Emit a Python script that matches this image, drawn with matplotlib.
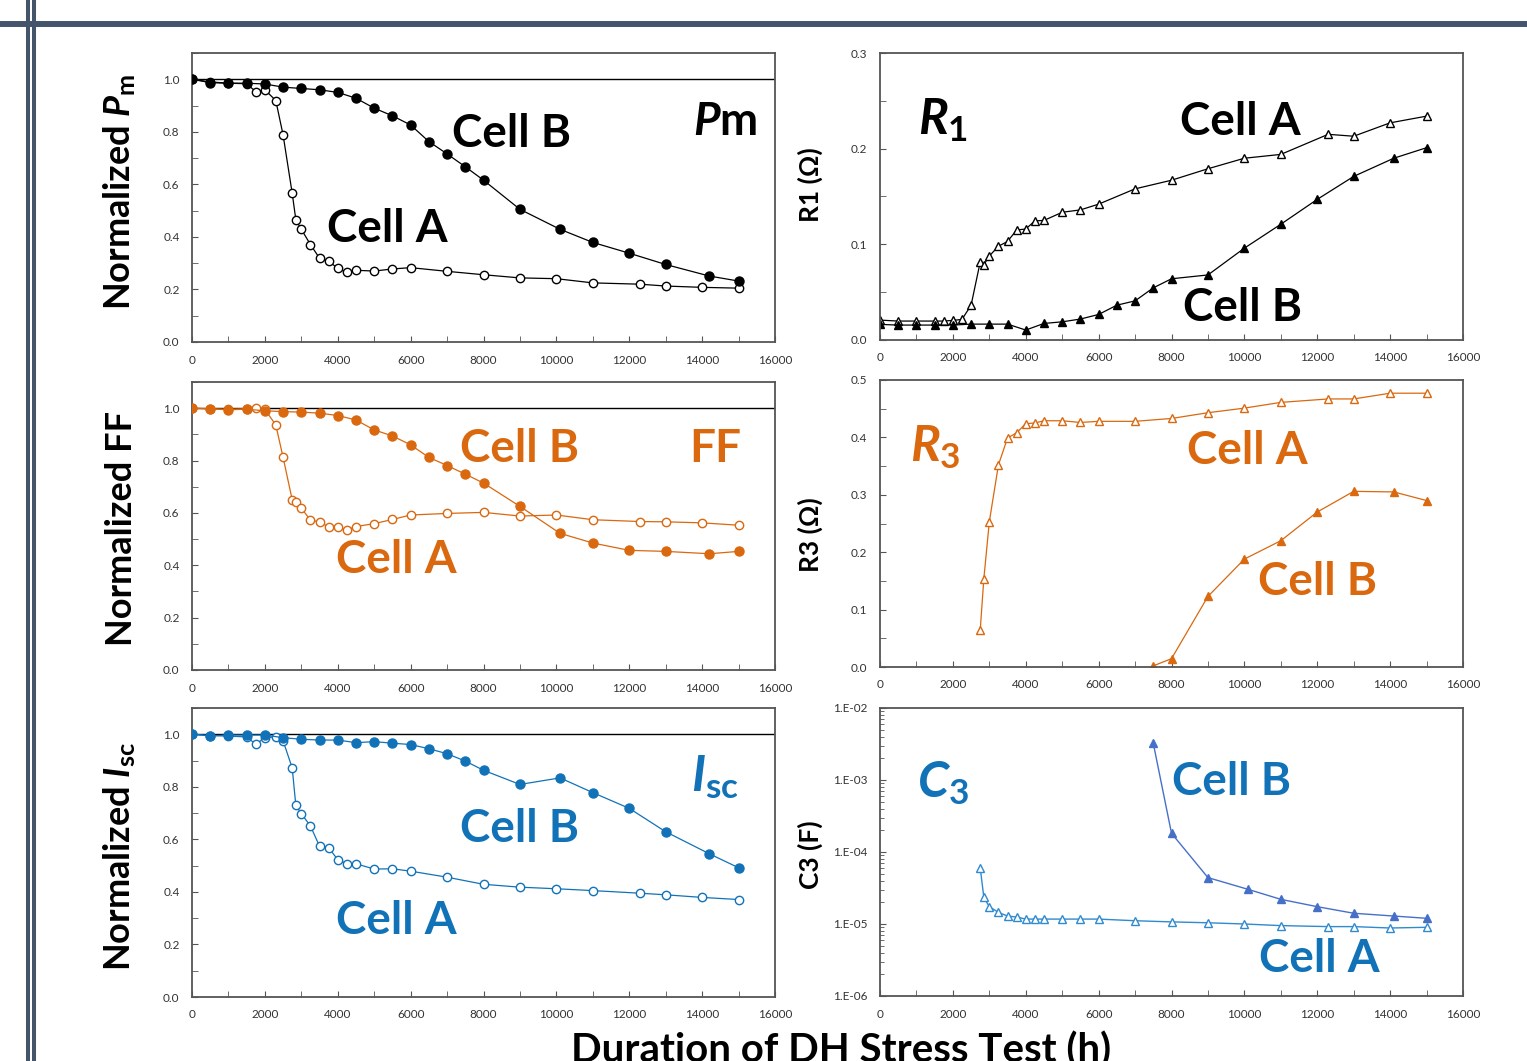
import numpy as np
import matplotlib
matplotlib.use("Agg")
import matplotlib.pyplot as plt
from matplotlib.lines import Line2D
from matplotlib.ticker import MultipleLocator, FuncFormatter, LogLocator, NullFormatter

plt.rcParams['font.family'] = ['Lato', 'DejaVu Sans']
plt.rcParams['mathtext.fontset'] = 'custom'
plt.rcParams['mathtext.rm'] = 'Lato:bold'
plt.rcParams['mathtext.it'] = 'Lato:italic:bold'
plt.rcParams['mathtext.bf'] = 'Lato:bold'

# hours of damp-heat exposure
hours_a = [0, 500, 1000, 1500, 1750, 2000, 2300, 2500, 2750, 2850, 3000, 3250, 3500, 3750,
           4000, 4250, 4500, 5000, 5500, 6000, 7000, 8000, 9000, 10000, 11000, 12300, 13000,
           14000, 15000]
hours_b = [0, 500, 1000, 1500, 2000, 2500, 3000, 3500, 4000, 4500, 5000, 5500, 6000, 6500,
           7000, 7500, 8000, 9000, 10100, 11000, 12000, 13000, 14200, 15000]

# normalized Pm, FF, Isc
pm_a = [1.0, 0.99, 0.985, 0.983, 0.953, 0.96, 0.919, 0.788, 0.566, 0.465, 0.429, 0.371, 0.319,
        0.308, 0.280, 0.265, 0.273, 0.270, 0.278, 0.283, 0.269, 0.256, 0.244, 0.241, 0.225,
        0.220, 0.213, 0.208, 0.205]
pm_b = [1.0, 0.987, 0.985, 0.985, 0.982, 0.970, 0.965, 0.960, 0.950, 0.928, 0.890, 0.861, 0.826,
        0.763, 0.716, 0.667, 0.616, 0.505, 0.429, 0.379, 0.338, 0.295, 0.251, 0.232]
ff_a = [1.0, 0.998, 0.996, 0.998, 1.0, 0.995, 0.936, 0.812, 0.650, 0.641, 0.618, 0.573, 0.565,
        0.547, 0.547, 0.534, 0.548, 0.559, 0.575, 0.592, 0.598, 0.602, 0.588, 0.592, 0.574,
        0.567, 0.566, 0.562, 0.553]
ff_b = [1.0, 0.997, 0.994, 0.996, 0.990, 0.987, 0.985, 0.981, 0.972, 0.955, 0.917, 0.894, 0.860,
        0.812, 0.781, 0.748, 0.714, 0.625, 0.522, 0.485, 0.457, 0.453, 0.444, 0.453]
isc_a = [1.0, 0.995, 0.993, 0.99, 0.962, 0.987, 0.99, 0.975, 0.872, 0.729, 0.698, 0.651, 0.574,
         0.568, 0.523, 0.507, 0.507, 0.487, 0.488, 0.479, 0.456, 0.429, 0.418, 0.412, 0.405,
         0.395, 0.389, 0.379, 0.371]
isc_b = [1.0, 0.994, 0.997, 0.997, 0.997, 0.987, 0.981, 0.978, 0.978, 0.968, 0.972, 0.966, 0.961,
         0.945, 0.926, 0.898, 0.863, 0.809, 0.834, 0.778, 0.718, 0.629, 0.545, 0.492]

# R1 (ohm)
r1_hours_a = [0, 500, 1000, 1500, 1750, 2000, 2250, 2500, 2750, 2850, 3000, 3250, 3500, 3750,
              4000, 4250, 4500, 5000, 5500, 6000, 7000, 8000, 9000, 10000, 11000, 12300, 13000,
              14000, 15000]
r1_a = [0.0208, 0.0198, 0.0198, 0.0198, 0.0198, 0.0205, 0.0215, 0.0364, 0.0815, 0.0787, 0.0878,
        0.098, 0.103, 0.115, 0.116, 0.1245, 0.125, 0.1335, 0.136, 0.142, 0.158, 0.167, 0.179,
        0.190, 0.194, 0.215, 0.213, 0.227, 0.234]
r1_hours_b = [0, 500, 1000, 1500, 2000, 2500, 3000, 3500, 4000, 4500, 5000, 5500, 6000, 6500,
              7000, 7500, 8000, 9000, 10000, 11000, 12000, 13000, 14100, 15000]
r1_b = [0.0163, 0.0156, 0.0156, 0.0156, 0.0156, 0.0166, 0.0166, 0.0166, 0.0104, 0.0173, 0.019,
        0.0219, 0.0267, 0.0364, 0.0409, 0.0545, 0.064, 0.068, 0.096, 0.121, 0.147, 0.171, 0.190,
        0.201]

# R3 (ohm) and C3 (F)
rc_hours_a = [2750, 2850, 3000, 3250, 3500, 3750, 4000, 4250, 4500, 5000, 5500, 6000, 7000, 8000,
              9000, 10000, 11000, 12300, 13000, 14000, 15000]
r3_a = [0.064, 0.154, 0.253, 0.352, 0.399, 0.408, 0.424, 0.425, 0.429, 0.429, 0.426, 0.428,
        0.428, 0.433, 0.443, 0.451, 0.461, 0.467, 0.467, 0.477, 0.477]
r3_hours_b = [7500, 8000, 9000, 10000, 11000, 12000, 13000, 14100, 15000]
r3_b = [0.002, 0.0145, 0.123, 0.188, 0.220, 0.270, 0.306, 0.305, 0.290]
c3_a = [6.05e-5, 2.34e-5, 1.74e-5, 1.45e-5, 1.29e-5, 1.25e-5, 1.17e-5, 1.17e-5, 1.17e-5, 1.17e-5,
        1.17e-5, 1.17e-5, 1.11e-5, 1.07e-5, 1.04e-5, 1.0e-5, 9.5e-6, 9.2e-6, 9.2e-6, 8.8e-6, 9.0e-6]
c3_hours_b = [7500, 8000, 9000, 10100, 11000, 12000, 13000, 14100, 15000]
c3_b = [3.23e-3, 1.82e-4, 4.41e-5, 3.03e-5, 2.20e-5, 1.74e-5, 1.41e-5, 1.29e-5, 1.20e-5]

BLACK = '#000000'
ORANGE = '#D9680F'
BLUE = '#1172B8'
BLUE_A = '#2F8AD0'
BLUE_B = '#4670C8'

W, H = 1527, 1061
fig = plt.figure(figsize=(W / 100, H / 100), dpi=100)


def box(left, top, bottom):
    return [left / W, 1 - bottom / H, 583 / W, (bottom - top) / H]


def style(ax, ymax, ymajor, yminor, yfmt):
    ax.set_xlim(0, 16000)
    ax.set_ylim(0, ymax)
    ax.xaxis.set_major_locator(MultipleLocator(2000))
    ax.xaxis.set_minor_locator(MultipleLocator(1000))
    ax.yaxis.set_major_locator(MultipleLocator(ymajor))
    ax.yaxis.set_minor_locator(MultipleLocator(yminor))
    ax.yaxis.set_major_formatter(FuncFormatter(lambda v, p: yfmt % v))
    ax.xaxis.set_major_formatter(FuncFormatter(lambda v, p: '%d' % v))
    for s in ax.spines.values():
        s.set_color('#555555')
        s.set_linewidth(1.3)
    ax.tick_params(which='both', direction='in', labelsize=8.5, labelcolor='#333333',
                   color='#555555', pad=9, top=False, right=False)
    ax.tick_params(which='major', length=4)
    ax.tick_params(which='minor', length=4)


def normalized(ax, ya, yb, color, fill_b):
    ax.axhline(1.0, color='black', lw=1.0, zorder=1)
    ax.plot(hours_a, ya, '-o', color=color, lw=0.9, ms=6, mfc='white', mec=color, mew=1.0, zorder=3)
    ax.plot(hours_b, yb, '-o', color=color, lw=0.9, ms=6.5, mfc=fill_b, mec=fill_b, mew=1.0, zorder=4)
    style(ax, 1.1, 0.2, 0.1, '%.1f')


big = dict(fontsize=33, fontweight='bold', va='center', ha='left')

# top-left: Pm
ax = fig.add_axes(box(192, 53, 342))
normalized(ax, pm_a, pm_b, BLACK, BLACK)
ax.text(7130, 0.790, 'Cell B', color=BLACK, **big)
ax.text(3700, 0.430, 'Cell A', color=BLACK, **big)
ax.text(15500, 0.836, r'$P$m', color=BLACK, fontsize=33, fontweight='bold', va='center', ha='right')
ax.set_ylabel(r'Normalized $P_{\mathrm{m}}$', fontsize=26, fontweight='bold')
ax.yaxis.set_label_coords(-0.093, 0.52)

# middle-left: FF
ax = fig.add_axes(box(192, 382, 670))
normalized(ax, ff_a, ff_b, ORANGE, ORANGE)
ax.text(7350, 0.845, 'Cell B', color=ORANGE, **big)
ax.text(13650, 0.845, 'FF', color=ORANGE, **big)
ax.text(3950, 0.420, 'Cell A', color=ORANGE, **big)
ax.set_ylabel('Normalized FF', fontsize=26, fontweight='bold')
ax.yaxis.set_label_coords(-0.093, 0.49)

# bottom-left: Isc
ax = fig.add_axes(box(192, 708, 997))
normalized(ax, isc_a, isc_b, BLUE, BLUE)
ax.text(7350, 0.640, 'Cell B', color=BLUE, **big)
ax.text(3950, 0.290, 'Cell A', color=BLUE, **big)
ax.text(13700, 0.837, r'$I_{\mathrm{sc}}$', color=BLUE, fontsize=36, va='center', ha='left')
ax.set_ylabel(r'Normalized $I_{\mathrm{sc}}$', fontsize=26, fontweight='bold')
ax.yaxis.set_label_coords(-0.093, 0.485)

# top-right: R1
ax = fig.add_axes(box(880, 53, 340))
ax.plot(r1_hours_a, r1_a, '-^', color=BLACK, lw=0.9, ms=6, mfc='white', mec=BLACK, mew=1.0)
ax.plot(r1_hours_b, r1_b, '-^', color=BLACK, lw=0.9, ms=6, mfc=BLACK, mec=BLACK, mew=1.0)
style(ax, 0.3, 0.1, 0.05, '%.1f')
ax.text(1040, 0.230, r'$R_{1}$', color=BLACK, fontsize=36, va='center', ha='left')
ax.text(8230, 0.228, 'Cell A', color=BLACK, **big)
ax.text(8310, 0.033, 'Cell B', color=BLACK, **big)
ax.set_ylabel('R1 (Ω)', fontsize=19, fontweight='bold')
ax.yaxis.set_label_coords(-0.097, 0.54)

# middle-right: R3
ax = fig.add_axes(box(880, 380, 667))
ax.plot(rc_hours_a, r3_a, '-^', color=ORANGE, lw=0.9, ms=6, mfc='white', mec=ORANGE, mew=1.0)
ax.plot(r3_hours_b, r3_b, '-^', color=ORANGE, lw=0.9, ms=6, mfc=ORANGE, mec=ORANGE, mew=1.0)
style(ax, 0.5, 0.1, 0.05, '%.1f')
ax.text(820, 0.383, r'$R_{3}$', color=ORANGE, fontsize=36, va='center', ha='left')
ax.text(8420, 0.376, 'Cell A', color=ORANGE, **big)
ax.text(10370, 0.148, 'Cell B', color=ORANGE, **big)
ax.set_ylabel('R3 (Ω)', fontsize=19, fontweight='bold')
ax.yaxis.set_label_coords(-0.097, 0.46)

# bottom-right: C3 (log)
ax = fig.add_axes(box(880, 708, 996))
ax.plot(rc_hours_a, c3_a, '-^', color=BLUE_A, lw=1.0, ms=6, mfc='white', mec=BLUE_A, mew=1.0)
ax.plot(c3_hours_b, c3_b, '-^', color=BLUE_B, lw=1.0, ms=6, mfc=BLUE_B, mec=BLUE_B, mew=1.0)
style(ax, 1, 0.1, 0.05, '%.1f')
ax.set_yscale('log')
ax.set_ylim(1e-6, 1e-2)
ax.yaxis.set_major_locator(LogLocator(base=10, numticks=10))
ax.yaxis.set_minor_locator(LogLocator(base=10, subs=np.arange(2, 10), numticks=10))
ax.yaxis.set_minor_formatter(NullFormatter())
ax.yaxis.set_major_formatter(FuncFormatter(lambda v, p: '1.E%+03d' % round(np.log10(v))))
ax.tick_params(axis='y', which='minor', length=3)
ax.text(1010, 9.1e-4, r'$C_{3}$', color=BLUE, fontsize=36, va='center', ha='left')
ax.text(8010, 9.5e-4, 'Cell B', color=BLUE, **big)
ax.text(10400, 3.3e-6, 'Cell A', color=BLUE, **big)
ax.set_ylabel('C3 (F)', fontsize=19, fontweight='bold')
ax.yaxis.set_label_coords(-0.097, 0.49)

fig.text(841 / W, 1 - 1063 / H, 'Duration of DH Stress Test (h)', fontsize=29,
         fontweight='bold', ha='center', va='baseline')

# slide frame lines
frame = '#44546A'
fig.add_artist(Line2D([28 / W, 28 / W], [0, 1], color=frame, lw=2.9, transform=fig.transFigure))
fig.add_artist(Line2D([34 / W, 34 / W], [0, 1], color=frame, lw=2.9, transform=fig.transFigure))
fig.add_artist(Line2D([0, 1], [1 - 24 / H, 1 - 24 / H], color=frame, lw=4.3, transform=fig.transFigure))

fig.savefig('out.png', dpi=100)
